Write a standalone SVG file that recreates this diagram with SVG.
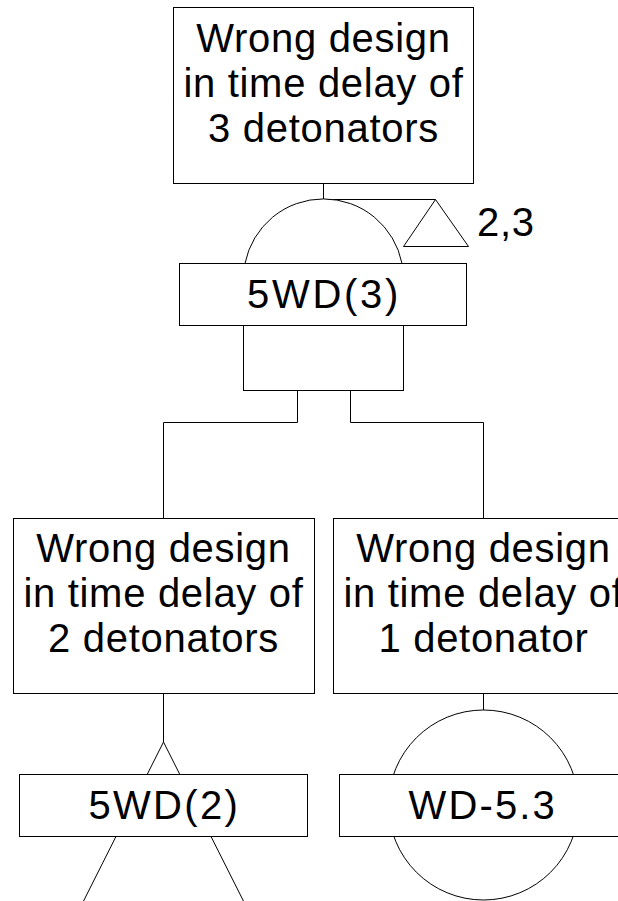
<svg xmlns="http://www.w3.org/2000/svg" width="618" height="901" viewBox="0 0 618 901">
<style>
.s{fill:#fff;stroke:#000;stroke-width:1}
.l{fill:none;stroke:#000;stroke-width:1}
text{font-family:"Liberation Sans",Arial,Helvetica,sans-serif;font-size:40px;fill:#000;letter-spacing:0.7px}
.c{text-anchor:middle}
</style>
<rect width="618" height="901" fill="#fff"/>
<g id="connectors">
<path class="l" d="M323.5,183.5V199.5H435.5"/>
<path class="l" d="M297.5,390.5V422.5H163.5V518.5"/>
<path class="l" d="M350.5,390.5V422.5H483.5V518.5"/>
<path class="l" d="M163.5,693.5V742"/>
<path class="l" d="M483.5,693.5V710"/>
</g>
<g id="top-event">
<rect class="s" x="173.5" y="7.5" width="300" height="176"/>
<text class="c" x="323.5" y="52">Wrong design</text>
<text class="c" x="323.5" y="97">in time delay of</text>
<text class="c" x="323.5" y="142">3 detonators</text>
</g>
<g id="gate-5WD3">
<path class="s" d="M245,263.5A80,80 0 0 1 402,263.5Z"/>
<rect class="s" x="243.5" y="325.5" width="160" height="65"/>
<rect class="s" x="179.5" y="263.5" width="287" height="62"/>
<text class="c" x="323" y="308" textLength="152" lengthAdjust="spacing">5WD(3)</text>
</g>
<g id="transfer-23">
<polygon class="s" points="435.5,199.5 403.5,246.5 468.5,246.5"/>
<text x="477" y="236">2,3</text>
</g>
<g id="event-2det">
<rect class="s" x="13.5" y="518.5" width="301" height="175"/>
<text class="c" x="163.5" y="562">Wrong design</text>
<text class="c" x="163.5" y="607">in time delay of</text>
<text class="c" x="163.5" y="652">2 detonators</text>
</g>
<g id="event-1det">
<rect class="s" x="333.5" y="518.5" width="301" height="175"/>
<text class="c" x="483.5" y="562">Wrong design</text>
<text class="c" x="483.5" y="607">in time delay of</text>
<text class="c" x="483.5" y="652">1 detonator</text>
</g>
<g id="gate-5WD2">
<polygon class="s" points="163.5,742 73,922 254,922"/>
<rect class="s" x="19.5" y="774.5" width="288" height="62"/>
<text class="c" x="163.5" y="819" textLength="150" lengthAdjust="spacing">5WD(2)</text>
</g>
<g id="basic-WD53">
<circle class="s" cx="483.5" cy="805" r="95"/>
<rect class="s" x="339.5" y="774.5" width="288" height="62"/>
<text class="c" x="482" y="819" textLength="147" lengthAdjust="spacing">WD-5.3</text>
</g>
</svg>
